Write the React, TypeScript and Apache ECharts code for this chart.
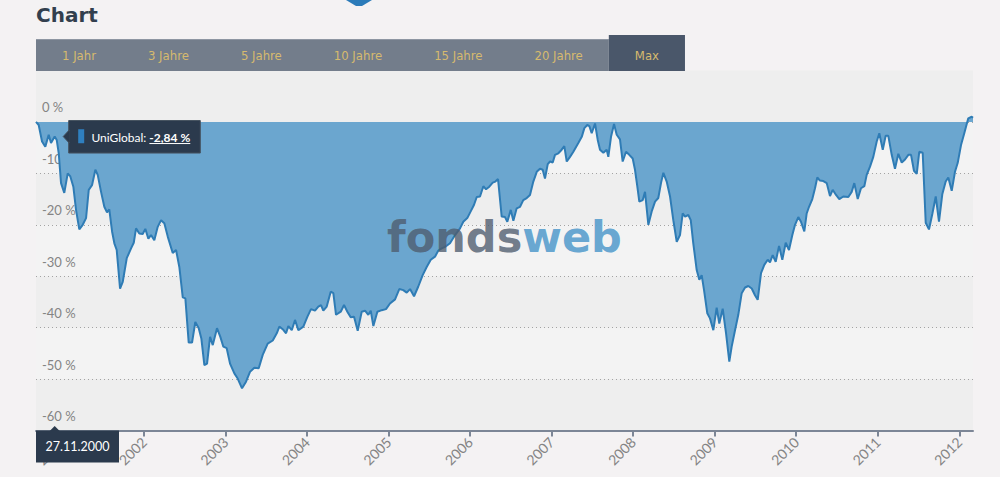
import React, { useEffect, useRef } from 'react';
import * as echarts from 'echarts';

// Decimal years and drawdown values in %
const dates: number[] = [
  2000.675, 2000.708, 2000.749, 2000.789, 2000.831, 2000.859, 2000.929, 2000.954, 2000.982,
  2001.022, 2001.064, 2001.096, 2001.133, 2001.166, 2001.206, 2001.248, 2001.289, 2001.322, 2001.362, 2001.403, 2001.432, 2001.473, 2001.513, 2001.546, 2001.574, 2001.608, 2001.636, 2001.665, 2001.706, 2001.739, 2001.788, 2001.841, 2001.874, 2001.902, 2001.942, 2001.984,
  2002.016, 2002.053, 2002.086, 2002.126, 2002.168, 2002.209, 2002.249, 2002.291, 2002.352, 2002.393, 2002.433, 2002.475, 2002.507, 2002.548, 2002.589, 2002.629, 2002.671, 2002.703, 2002.740, 2002.773, 2002.810, 2002.843, 2002.895, 2002.936, 2002.973,
  2003.014, 2003.055, 2003.108, 2003.149, 2003.202, 2003.251, 2003.300, 2003.353, 2003.407, 2003.456, 2003.517, 2003.579, 2003.628, 2003.660, 2003.701, 2003.742, 2003.770, 2003.812, 2003.852, 2003.893, 2003.954,
  2004.003, 2004.048, 2004.097, 2004.138, 2004.171, 2004.199, 2004.241, 2004.290, 2004.322, 2004.355, 2004.413, 2004.453, 2004.494, 2004.535, 2004.576, 2004.621, 2004.670, 2004.711, 2004.751, 2004.781, 2004.813, 2004.862, 2004.916, 2004.968,
  2005.017, 2005.079, 2005.131, 2005.180, 2005.222, 2005.263, 2005.312, 2005.364, 2005.418, 2005.467, 2005.517, 2005.569, 2005.610, 2005.651, 2005.692, 2005.753, 2005.815, 2005.876, 2005.916, 2005.965,
  2006.007, 2006.048, 2006.081, 2006.121, 2006.162, 2006.195, 2006.235, 2006.277, 2006.309, 2006.342, 2006.387, 2006.428, 2006.456, 2006.498, 2006.530, 2006.571, 2006.612, 2006.652, 2006.694, 2006.734, 2006.775, 2006.817, 2006.857, 2006.890, 2006.918, 2006.952, 2006.980,
  2007.013, 2007.041, 2007.082, 2007.123, 2007.155, 2007.185, 2007.225, 2007.266, 2007.327, 2007.369, 2007.401, 2007.437, 2007.462, 2007.491, 2007.532, 2007.565, 2007.593, 2007.634, 2007.675, 2007.695, 2007.728, 2007.765, 2007.798, 2007.838, 2007.871, 2007.912, 2007.952, 2007.994,
  2008.022, 2008.051, 2008.075, 2008.117, 2008.145, 2008.186, 2008.227, 2008.268, 2008.308, 2008.341, 2008.370, 2008.411, 2008.452, 2008.492, 2008.534, 2008.574, 2008.607, 2008.636, 2008.676, 2008.706, 2008.737, 2008.779, 2008.811, 2008.840, 2008.869, 2008.909, 2008.942, 2008.983,
  2009.024, 2009.056, 2009.098, 2009.139, 2009.179, 2009.208, 2009.249, 2009.289, 2009.331, 2009.372, 2009.412, 2009.454, 2009.494, 2009.527, 2009.568, 2009.608, 2009.650, 2009.678, 2009.711, 2009.748, 2009.789, 2009.829, 2009.871, 2009.911, 2009.952, 2009.985,
  2010.025, 2010.058, 2010.099, 2010.128, 2010.157, 2010.197, 2010.230, 2010.258, 2010.291, 2010.332, 2010.374, 2010.414, 2010.447, 2010.488, 2010.528, 2010.577, 2010.639, 2010.680, 2010.712, 2010.754, 2010.794, 2010.835, 2010.864, 2010.905, 2010.945, 2010.987,
  2011.019, 2011.061, 2011.097, 2011.129, 2011.171, 2011.211, 2011.252, 2011.294, 2011.334, 2011.375, 2011.408, 2011.444, 2011.478, 2011.509, 2011.551, 2011.588, 2011.628, 2011.669, 2011.711, 2011.751, 2011.792, 2011.833, 2011.865, 2011.907, 2011.947, 2011.980,
  2012.021, 2012.061, 2012.110, 2012.152, 2012.168,
];

const values: number[] = [
  0, -0.6, -3.8, -4.8, -2.5, -4.1, -3.5, -6.1, -11.9,
  -13.8, -10, -10.6, -12.6, -17.1, -20.9, -20, -18.7, -13.2, -12.3, -9.3, -10.3, -13.6, -16.5, -17.6, -17, -21.3, -23.6, -24.9, -32.4, -31.1, -26.5, -24.6, -23.5, -20.7, -21.7, -21.8,
  -20.8, -22.7, -22, -23, -20.4, -19.1, -19.7, -22.3, -25.5, -24.9, -28.2, -34.1, -34.3, -42.9, -42.9, -38.9, -40.1, -42.1, -47.3, -47, -41.8, -43.4, -40.1, -41.8, -43.7,
  -44, -47, -48.9, -49.9, -51.8, -50.5, -48.6, -47.8, -47.9, -45.3, -43.1, -42.5, -41.1, -39.8, -40.3, -41.1, -39.7, -40.5, -38.5, -40.5, -39.8,
  -37.9, -36.4, -36.7, -35.9, -35.6, -36.7, -35.9, -33, -33.3, -37.5, -36.9, -35.6, -36.9, -38, -37.9, -40.6, -36.9, -36.7, -37.5, -36.7, -39.7, -36.9, -36.6, -36.4,
  -35.3, -34.5, -32.5, -32.7, -33.2, -32.5, -33.9, -32, -29.8, -28.2, -26.8, -26.2, -25, -24.6, -24.3, -23.6, -22, -20.7, -19.4, -18.7,
  -17.4, -16.1, -14.6, -14.5, -12.5, -13.1, -12.6, -11.8, -11.6, -11.1, -18.4, -18.5, -19.4, -17.1, -19.2, -16.8, -16.5, -15.2, -14.8, -14.2, -11.6, -9.7, -9.1, -9.3, -11, -8.2, -7.7,
  -7.9, -6.4, -6.1, -5.4, -4.7, -7.7, -6.8, -5.8, -4.1, -2.9, -1.2, -0.6, -0.8, -2.2, -0.3, -3.5, -5.4, -6, -5.4, -6.8, -2.9, -0.4, -2.5, -3.4, -7.7, -5.8, -6.4, -7.1,
  -9.3, -12.6, -15.5, -15.2, -13.6, -20, -17.4, -15.5, -14.8, -11.9, -9.9, -11.6, -14.5, -19.1, -23.3, -22, -17.8, -18.4, -18.1, -19.1, -23.6, -28.8, -30.7, -29.8, -32.7, -37.2, -38.2, -40.5,
  -36.1, -39.2, -36.3, -41.1, -46.6, -43.7, -40.5, -37.5, -33.3, -32.2, -31.9, -32.4, -33.7, -34.6, -29.4, -27.8, -26.8, -27.3, -25.9, -27.2, -24.1, -26.8, -23.5, -24.9, -22, -20,
  -18.5, -19.4, -21.3, -17.8, -16.5, -15, -12.9, -10.8, -11.4, -11.5, -11.9, -14.4, -13.2, -14.2, -15, -14.5, -14.6, -13.6, -11.9, -15, -12.9, -12.5, -10.3, -8.7, -6.8, -3.8,
  -2.2, -5.4, -2.7, -2.7, -6.4, -9.1, -6.2, -7.9, -7.3, -6.4, -6.4, -9.5, -10.1, -5.8, -6, -19.6, -20.9, -17.9, -14.5, -19.4, -14, -11.6, -10.8, -13.4, -9.7, -8,
  -4.5, -2.2, 0.7, 1.0, 0.8,
];

// Hovered point shown in the tooltip
const tipDate = '2000-11-27';
const tipValue = -2.84;
const seriesName = 'UniGlobal';

const yearTicks: number[] = [2001, 2002, 2003, 2004, 2005, 2006, 2007, 2008, 2009, 2010, 2011, 2012];
const yMin = -60;
const yMax = 10;
const yStep = 10;

const rangeButtons: string[] = ['1 Jahr', '3 Jahre', '5 Jahre', '10 Jahre', '15 Jahre', '20 Jahre', 'Max'];
const activeButton = 'Max';
const titleText = 'Chart';

function parseDay(s: string): Date {
  const [y, m, d] = s.split('-').map(Number);
  return new Date(y, m - 1, d);
}
function dateToDecYear(dt: Date): number {
  const y = dt.getFullYear();
  const a = new Date(y, 0, 1).getTime();
  const b = new Date(y + 1, 0, 1).getTime();
  return y + (dt.getTime() - a) / (b - a);
}
function fmtDay(dt: Date): string {
  const p = (n: number) => String(n).padStart(2, '0');
  return `${p(dt.getDate())}.${p(dt.getMonth() + 1)}.${dt.getFullYear()}`;
}

const ctx2d = typeof document !== 'undefined' ? document.createElement('canvas').getContext('2d') : null;
function measure(text: string, font: string): number {
  if (!ctx2d) return text.length * 7;
  ctx2d.font = font;
  return ctx2d.measureText(text).width;
}

export default function App() {
  const ref = useRef<HTMLDivElement>(null);

  useEffect(() => {
    const el = ref.current;
    if (!el) return;
    const chart = echarts.init(el, null, { renderer: 'svg' });

    const tipDt = parseDay(tipDate);
    const tipX = dateToDecYear(tipDt);
    const data: [number, number][] = dates.map((d, i) => [d, values[i]] as [number, number]);
    data.push([tipX, tipValue]);
    data.sort((a, b) => a[0] - b[0]);

    const axisColor = '#7c8696';
    const labelColor = '#848484';

    chart.setOption({
      animation: false,
      backgroundColor: 'transparent',
      grid: { left: 36, right: 27, top: 70.5, bottom: 46.5, containLabel: false, outerBoundsMode: 'none' },
      xAxis: {
        type: 'value',
        min: 'dataMin',
        max: 'dataMax',
        axisLine: { show: true, onZero: false, lineStyle: { color: axisColor, width: 2 } },
        axisTick: { show: true, length: 6, customValues: yearTicks, lineStyle: { color: axisColor, width: 2 } },
        axisLabel: {
          customValues: yearTicks,
          rotate: 45,
          margin: 9,
          fontSize: 14,
          fontFamily: 'Lato',
          color: labelColor,
          formatter: (v: number) => String(Math.round(v)),
        },
        splitLine: { show: false },
      },
      yAxis: {
        type: 'value',
        min: yMin,
        max: yMax,
        interval: yStep,
        axisLine: { show: false },
        axisTick: { show: false },
        axisLabel: {
          inside: true,
          margin: 6,
          align: 'left',
          verticalAlign: 'bottom',
          padding: [0, 0, 8, 0],
          fontSize: 13,
          fontFamily: 'Lato',
          color: labelColor,
          showMaxLabel: false,
          formatter: (v: number) => `${v} %`,
        },
        splitLine: { show: true, showMaxLine: false, lineStyle: { color: '#a3a3a3', type: [1, 3], width: 1 } },
        splitArea: { show: true, areaStyle: { color: ['#eeeeee', '#f3f3f3'] } },
      },
      series: [
        {
          type: 'line',
          name: seriesName,
          data,
          symbol: 'none',
          showSymbol: false,
          lineStyle: { color: '#2f7cb5', width: 2 },
          areaStyle: { color: '#6ba6cf', opacity: 1 },
          z: 2,
        },
      ],
    });

    const p = chart.convertToPixel({ gridIndex: 0 }, [tipX, tipValue]) as number[];
    const origin = chart.convertToPixel({ gridIndex: 0 }, [data[0][0], yMin]) as number[];
    const gridLeft = origin[0];
    const axisY = origin[1];

    const elements: any[] = [];

    // Title and dropdown marker
    elements.push({
      type: 'text', x: 36, y: 15, z: 100,
      style: { text: titleText, font: 'bold 20px "DejaVu Sans"', fill: '#323f4e', verticalAlign: 'middle' },
    });
    elements.push({
      type: 'polygon', z: 100,
      shape: { points: [[346, 0], [372, 0], [362, 6], [356, 6]] },
      style: { fill: '#2b7bb9' },
    });

    // Range buttons
    const btnFont = '11.7px "DejaVu Sans"';
    const pad = 26;
    let bx = 36;
    const btnLayout = rangeButtons.map((label) => {
      const w = measure(label, btnFont) + pad * 2;
      const item = { label, x: bx, w };
      bx += w;
      return item;
    });
    const inactiveEnd = btnLayout.filter((b) => b.label !== activeButton).reduce((m, b) => Math.max(m, b.x + b.w), 36);
    elements.push({ type: 'rect', z: 100, shape: { x: 36, y: 39, width: inactiveEnd - 36, height: 32 }, style: { fill: '#737d8b' } });
    elements.push({ type: 'line', z: 101, shape: { x1: 36, y1: 39.5, x2: inactiveEnd, y2: 39.5 }, style: { stroke: '#8e96a2', lineWidth: 1 } });
    btnLayout.forEach((b) => {
      if (b.label === activeButton) {
        elements.push({ type: 'rect', z: 100, shape: { x: b.x, y: 35, width: b.w, height: 36 }, style: { fill: '#4a576a' } });
      }
      elements.push({
        type: 'text', z: 102, x: b.x + b.w / 2, y: 55.5,
        style: { text: b.label, font: btnFont, fill: '#d6ba6e', align: 'center', verticalAlign: 'middle' },
      });
    });

    // Watermark
    elements.push({
      type: 'text', z: 90, x: 387, y: 237,
      style: {
        text: '{a|fonds}{b|web}',
        verticalAlign: 'middle',
        rich: {
          a: { font: 'bold 43px "DejaVu Sans"', fill: 'rgba(78, 92, 110, 0.8)' },
          b: { font: 'bold 43px "DejaVu Sans"', fill: 'rgba(96, 162, 207, 0.95)' },
        },
      },
    });

    // Tooltip box
    const tipFont = '12px Lato';
    const tipBold = 'bold 12px Lato';
    const label = `${seriesName}:`;
    const valText = `${tipValue.toFixed(2).replace('.', ',')} %`;
    const labelW = measure(label, tipFont);
    const valW = measure(valText, tipBold);
    const boxX = p[0] + 14;
    const boxY = p[1] - 16;
    const textX = boxX + 22.7;
    const valX = textX + labelW + 3;
    const boxW = valX + valW + 10 - boxX;
    const boxH = 32.5;
    const dark = '#2b3a4d';
    elements.push({
      type: 'polygon', z: 110,
      shape: { points: [[boxX + 0.5, p[1] - 6.5], [p[0] + 8.5, p[1]], [boxX + 0.5, p[1] + 6.5]] },
      style: { fill: dark, stroke: '#46525f', lineWidth: 1 },
    });
    elements.push({
      type: 'rect', z: 109,
      shape: { x: boxX, y: boxY, width: boxW, height: boxH },
      style: { fill: dark, stroke: '#46525f', lineWidth: 1 },
    });
    elements.push({
      type: 'polygon', z: 111,
      shape: { points: [[boxX + 1, p[1] - 6], [p[0] + 9.5, p[1]], [boxX + 1, p[1] + 6]] },
      style: { fill: dark },
    });
    elements.push({ type: 'rect', z: 111, shape: { x: boxX + 9.5, y: p[1] - 7.3, width: 6, height: 14 }, style: { fill: '#2f7fbf' } });
    elements.push({
      type: 'text', z: 111, x: textX, y: p[1] + 0.5,
      style: { text: label, font: tipFont, fill: '#ffffff', verticalAlign: 'middle' },
    });
    elements.push({
      type: 'text', z: 111, x: valX, y: p[1] + 0.5,
      style: { text: valText, font: tipBold, fill: '#ffffff', verticalAlign: 'middle' },
    });
    elements.push({
      type: 'line', z: 111,
      shape: { x1: valX, y1: p[1] + 7, x2: valX + valW, y2: p[1] + 7 },
      style: { stroke: '#ffffff', lineWidth: 1 },
    });

    // Date label under the axis
    const dateText = fmtDay(tipDt);
    const dFont = '12.5px Lato';
    const dW = 83;
    const dX = Math.max(gridLeft, p[0] - dW / 2);
    const dY = axisY;
    elements.push({
      type: 'rect', z: 110,
      shape: { x: dX, y: dY, width: dW, height: 32 },
      style: { fill: dark },
    });
    elements.push({
      type: 'polygon', z: 110,
      shape: { points: [[p[0] - 5, dY + 0.5], [p[0], dY - 4.5], [p[0] + 5, dY + 0.5]] },
      style: { fill: dark },
    });
    elements.push({
      type: 'text', z: 111, x: dX + dW / 2, y: dY + 16,
      style: { text: dateText, font: dFont, fill: '#ffffff', align: 'center', verticalAlign: 'middle' },
    });

    chart.setOption({ graphic: { elements } });

    return () => chart.dispose();
  }, []);

  return (
    <div style={{ position: 'fixed', left: 0, top: 0, width: 1000, height: 477, background: '#f4f2f3' }}>
      <div ref={ref} style={{ width: 1000, height: 477 }} />
    </div>
  );
}
